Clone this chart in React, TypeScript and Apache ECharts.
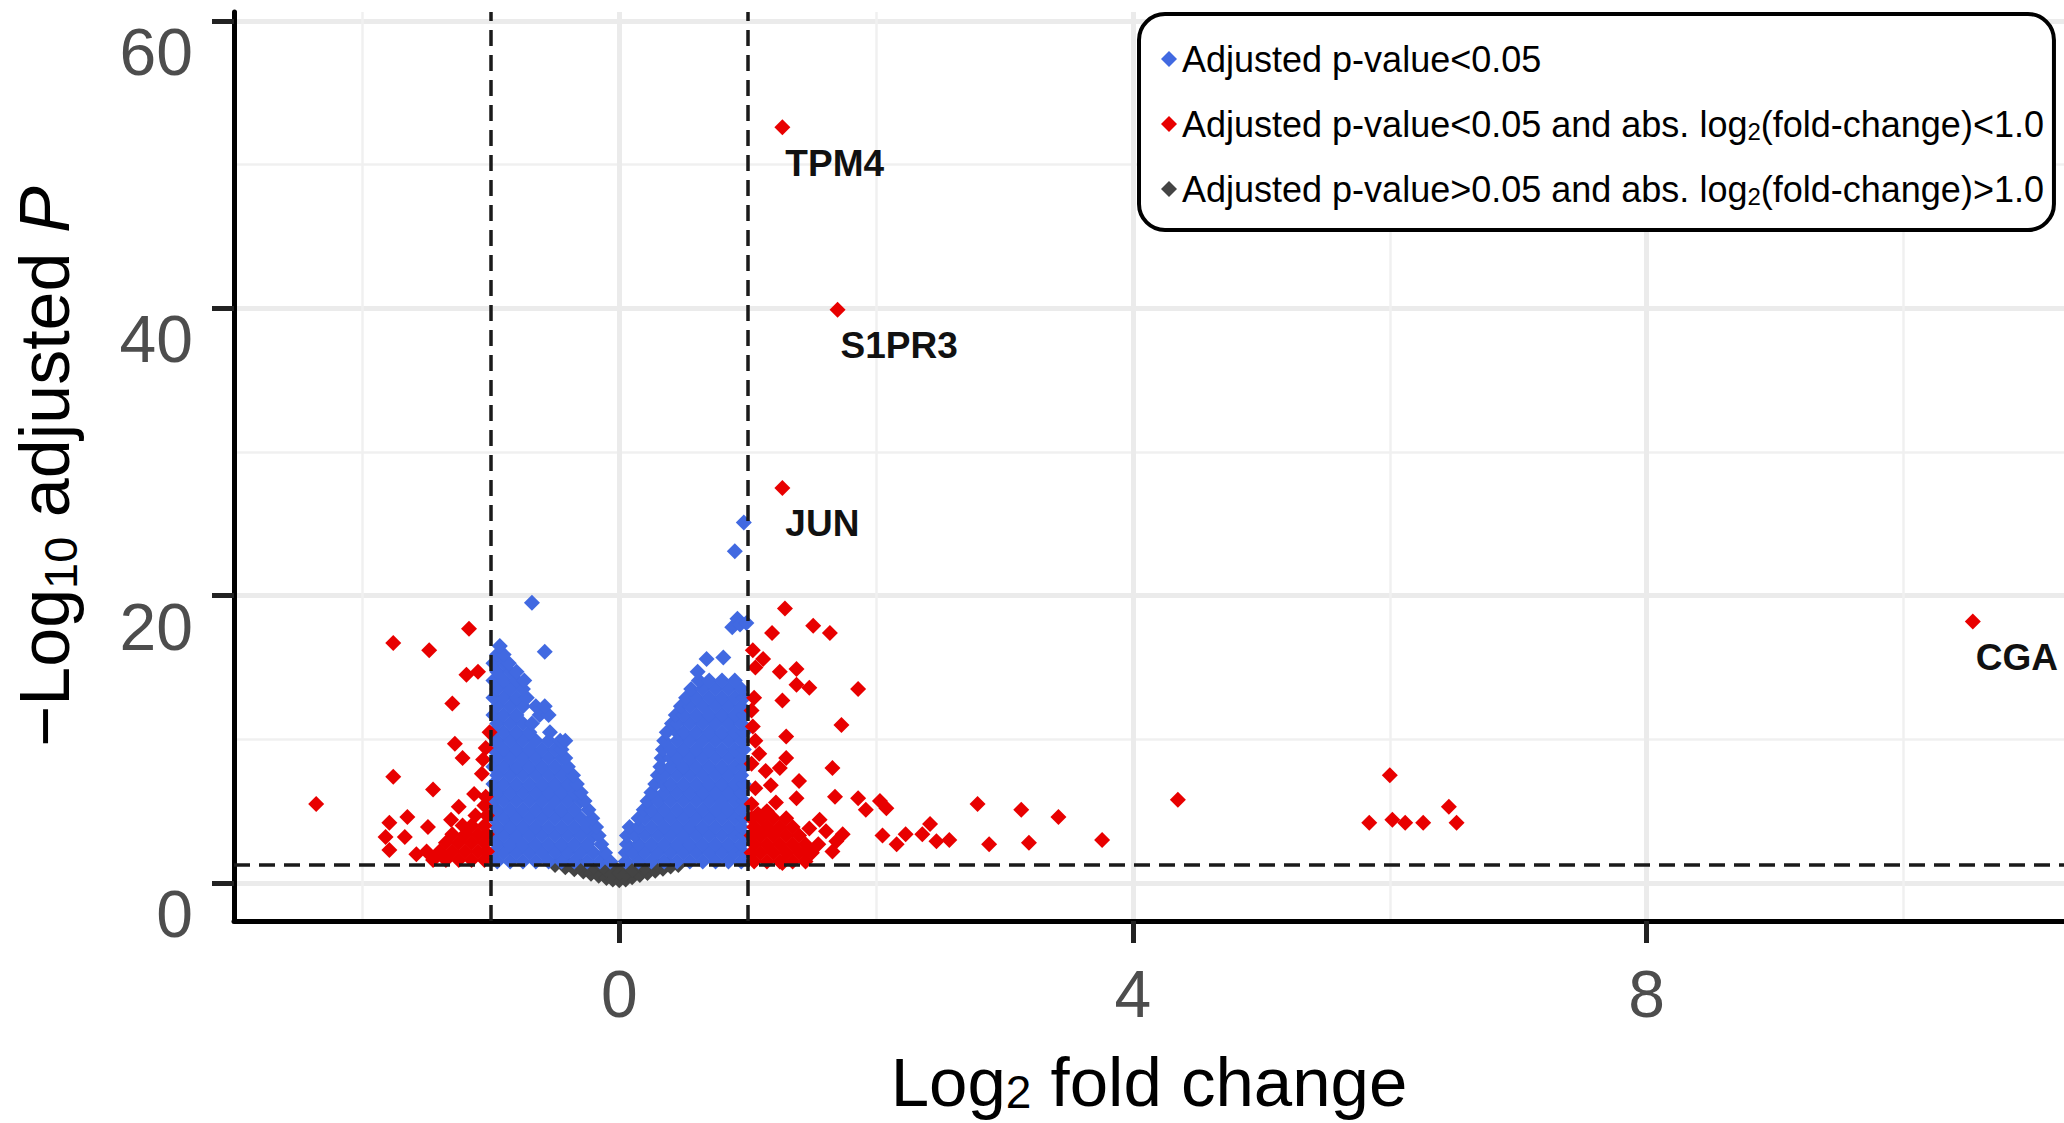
import React, { useEffect, useRef } from "react";
import * as echarts from "echarts";

// ---------------- DATA ----------------
const seriesNames = [
  "Adjusted p-value<0.05",
  "Adjusted p-value<0.05 and abs. log2(fold-change)<1.0",
  "Adjusted p-value>0.05 and abs. log2(fold-change)>1.0",
];

const xTickValues = [0, 4, 8];
const yTickValues = [0, 20, 40, 60];
const xMinorGrid = [-2, 2, 6, 10];
const yMinorGrid = [10, 30, 50];
const foldThresholds = [-1, 1];
const pThreshold = 1.3;

// blue cloud, left lobe: [y, x values]
const blueLeftRows: [number, number[]][] = [
  [1.5, [-0.95, -0.85, -0.75, -0.65, -0.55, -0.45, -0.35, -0.25, -0.15, -0.07]],
  [2.1, [-0.98, -0.9, -0.8, -0.7, -0.6, -0.5, -0.4, -0.3, -0.2, -0.11]],
  [2.7, [-0.95, -0.85, -0.75, -0.65, -0.55, -0.45, -0.35, -0.25, -0.14]],
  [3.3, [-0.98, -0.9, -0.8, -0.7, -0.6, -0.5, -0.4, -0.3, -0.2, -0.16]],
  [3.9, [-0.95, -0.85, -0.75, -0.65, -0.55, -0.45, -0.35, -0.25, -0.18]],
  [4.5, [-0.98, -0.9, -0.8, -0.7, -0.6, -0.5, -0.4, -0.3, -0.21]],
  [5.1, [-0.95, -0.85, -0.75, -0.65, -0.55, -0.45, -0.35, -0.24]],
  [5.7, [-0.98, -0.9, -0.8, -0.7, -0.6, -0.5, -0.4, -0.3, -0.27]],
  [6.3, [-0.95, -0.85, -0.75, -0.65, -0.55, -0.45, -0.35, -0.3]],
  [6.9, [-0.98, -0.9, -0.8, -0.7, -0.6, -0.5, -0.4, -0.33]],
  [7.5, [-0.95, -0.85, -0.75, -0.65, -0.55, -0.45, -0.36]],
  [8.1, [-0.98, -0.9, -0.8, -0.7, -0.6, -0.5, -0.4]],
  [8.7, [-0.95, -0.85, -0.75, -0.65, -0.55, -0.45, -0.42]],
  [9.3, [-0.98, -0.9, -0.8, -0.7, -0.6, -0.5, -0.45]],
  [9.9, [-0.95, -0.85, -0.75, -0.65, -0.55, -0.46, -0.42]],
  [10.5, [-0.98, -0.9, -0.8, -0.7, -0.54]],
  [11.1, [-0.95, -0.85, -0.75, -0.68]],
  [11.7, [-0.98, -0.9, -0.8, -0.62, -0.55]],
  [12.3, [-0.95, -0.85, -0.75, -0.65, -0.58]],
  [12.9, [-0.98, -0.9, -0.8, -0.72]],
  [13.5, [-0.95, -0.85, -0.75]],
  [14.1, [-0.98, -0.9, -0.8, -0.74]],
  [14.7, [-0.95, -0.85, -0.8]],
  [15.3, [-0.98, -0.9, -0.86]],
  [15.9, [-0.95, -0.9]],
  [16.5, [-0.93]],
];

// blue cloud, right lobe: [y, x values]
const blueRightRows: [number, number[]][] = [
  [1.5, [0.05, 0.15, 0.25, 0.35, 0.45, 0.55, 0.65, 0.75, 0.85, 0.95]],
  [2.1, [0.05, 0.1, 0.2, 0.3, 0.4, 0.5, 0.6, 0.7, 0.8, 0.9, 0.97]],
  [2.7, [0.06, 0.15, 0.25, 0.35, 0.45, 0.55, 0.65, 0.75, 0.85, 0.95]],
  [3.3, [0.06, 0.12, 0.2, 0.3, 0.4, 0.5, 0.6, 0.7, 0.8, 0.9, 0.97]],
  [3.9, [0.08, 0.15, 0.25, 0.35, 0.45, 0.55, 0.65, 0.75, 0.85, 0.95]],
  [4.5, [0.15, 0.2, 0.3, 0.4, 0.5, 0.6, 0.7, 0.8, 0.9, 0.97]],
  [5.1, [0.19, 0.25, 0.35, 0.45, 0.55, 0.65, 0.75, 0.85, 0.95]],
  [5.7, [0.22, 0.3, 0.4, 0.5, 0.6, 0.7, 0.8, 0.9, 0.97]],
  [6.3, [0.25, 0.35, 0.45, 0.55, 0.65, 0.75, 0.85, 0.95]],
  [6.9, [0.28, 0.34, 0.4, 0.5, 0.6, 0.7, 0.8, 0.9, 0.97]],
  [7.5, [0.3, 0.35, 0.45, 0.55, 0.65, 0.75, 0.85, 0.95]],
  [8.1, [0.32, 0.4, 0.5, 0.6, 0.7, 0.8, 0.9, 0.97]],
  [8.7, [0.33, 0.4, 0.45, 0.55, 0.65, 0.75, 0.85, 0.95]],
  [9.3, [0.34, 0.4, 0.5, 0.6, 0.7, 0.8, 0.9, 0.97]],
  [9.9, [0.35, 0.45, 0.55, 0.65, 0.75, 0.85, 0.95]],
  [10.5, [0.37, 0.45, 0.5, 0.6, 0.7, 0.8, 0.9, 0.97]],
  [11.1, [0.41, 0.45, 0.55, 0.65, 0.75, 0.85, 0.95]],
  [11.7, [0.44, 0.5, 0.6, 0.7, 0.8, 0.9, 0.97]],
  [12.3, [0.48, 0.55, 0.65, 0.75, 0.85, 0.95]],
  [12.9, [0.52, 0.6, 0.7, 0.8, 0.9, 0.97]],
  [13.5, [0.56, 0.65, 0.75, 0.85, 0.95]],
  [14.1, [0.62, 0.7, 0.8, 0.9]],
];

const blueScattered: [number, number][] = [
  [-0.68, 19.5], [-0.58, 16.1], [0.61, 14.7], [0.68, 15.6], [0.81, 15.7],
  [0.88, 17.8], [0.92, 18.4], [0.94, 18.0], [0.99, 18.1], [0.9, 23.1], [0.97, 25.1],
];

// red, dense clusters: [y, x values]
const redLeftRows: [number, number[]][] = [
  [1.6, [-1.05, -1.15, -1.25, -1.35, -1.45]],
  [2.2, [-1.03, -1.1, -1.2, -1.3, -1.4]],
  [2.8, [-1.05, -1.15, -1.25, -1.35]],
  [3.4, [-1.03, -1.1, -1.2, -1.3]],
  [4.0, [-1.05, -1.15, -1.22]],
  [4.7, [-1.03, -1.12]],
  [5.4, [-1.05]],
  [6.0, [-1.04]],
];
const redRightRows: [number, number[]][] = [
  [1.5, [1.05, 1.15, 1.25, 1.35, 1.45]],
  [2.1, [1.03, 1.1, 1.2, 1.3, 1.4, 1.5]],
  [2.7, [1.05, 1.15, 1.25, 1.35, 1.45, 1.55]],
  [3.3, [1.03, 1.1, 1.2, 1.3, 1.4]],
  [3.9, [1.05, 1.15, 1.25, 1.35]],
  [4.5, [1.03, 1.1, 1.2, 1.3]],
];
const redScattered: [number, number][] = [
  [-2.36, 5.5], [-1.76, 16.7], [-1.48, 16.2], [-1.17, 17.7], [-1.19, 14.5], [-1.1, 14.7],
  [-1.3, 12.5], [-1.01, 10.5], [-1.28, 9.7], [-1.22, 8.7], [-1.76, 7.4], [-1.45, 6.5],
  [-1.06, 8.6], [-1.79, 4.2], [-1.65, 4.6], [-1.49, 3.9], [-1.82, 3.2], [-1.67, 3.2],
  [-1.79, 2.3], [-1.31, 4.4], [-1.25, 5.3], [-1.13, 6.2], [-1.07, 7.6], [-1.04, 9.4],
  [-1.5, 2.2], [-1.58, 2.0],
  [1.29, 19.1], [1.19, 17.4], [1.51, 17.9], [1.64, 17.4], [1.04, 16.2], [1.12, 15.6],
  [1.06, 15.0], [1.25, 14.7], [1.38, 14.9], [1.38, 13.8], [1.48, 13.6], [1.86, 13.5],
  [1.05, 12.9], [1.27, 12.7], [1.03, 12.0], [1.04, 10.9], [1.73, 11.0], [1.06, 9.9],
  [1.3, 10.2], [1.09, 9.0], [1.3, 8.7], [1.66, 8.0], [1.03, 8.3], [1.14, 7.8],
  [1.25, 8.0], [1.4, 7.1], [1.06, 6.6], [1.18, 6.8], [1.38, 5.9], [1.68, 6.0],
  [1.86, 5.9], [1.92, 5.1], [2.03, 5.7], [2.08, 5.2], [2.79, 5.5], [3.13, 5.1],
  [3.42, 4.6], [2.05, 3.3], [2.16, 2.7], [2.23, 3.4], [2.36, 3.4], [2.42, 4.1],
  [2.47, 2.9], [2.57, 3.0], [2.88, 2.7], [3.19, 2.8], [3.76, 3.0], [4.35, 5.8],
  [1.48, 3.8], [1.56, 4.4], [1.61, 3.6], [1.69, 2.9], [1.74, 3.4], [1.66, 2.2],
  [1.45, 2.2], [1.27, 1.4], [1.03, 5.5], [1.15, 5.0], [1.22, 5.6], [1.08, 4.8],
  [6.0, 7.5], [5.84, 4.2], [6.02, 4.4], [6.12, 4.2], [6.26, 4.2], [6.46, 5.3], [6.52, 4.2],
];

const grayPoints: [number, number][] = [
  [-0.5, 1.25], [-0.42, 1.1], [-0.35, 0.95], [-0.28, 0.8], [-0.22, 0.65], [-0.16, 0.5],
  [-0.1, 0.35], [-0.05, 0.25], [0, 0.2], [0.05, 0.25], [0.1, 0.4], [0.16, 0.55],
  [0.22, 0.7], [0.28, 0.85], [0.34, 1.0], [0.4, 1.15], [0.46, 1.25],
  [-0.4, 1.3], [-0.3, 1.25], [-0.2, 1.1], [-0.15, 1.3], [-0.1, 0.9], [-0.05, 0.65],
  [-0.05, 1.2], [0, 0.7], [0.05, 0.65], [0.05, 1.2], [0.1, 0.9], [0.15, 1.3],
  [0.2, 1.1], [0.3, 1.25], [0.38, 1.3],
];

const labelledGenes = [
  { name: "TPM4", x: 1.27, y: 52.6 },
  { name: "S1PR3", x: 1.7, y: 39.9 },
  { name: "JUN", x: 1.27, y: 27.5 },
  { name: "CGA", x: 10.54, y: 18.2 },
];

// ---------------- STYLE ----------------
const FONT = "'Liberation Sans', Arial, Helvetica, sans-serif";
const COLORS = { blue: "#4169E1", red: "#E80000", gray: "#444444" };
const SYMBOL_SIZE = 16;

const rowsToPoints = (rows: [number, number[]][]) =>
  rows.flatMap(([y, xs]) => xs.map((x) => [x, y]));

const pointSeries = (name: string, color: string, data: any[], z: number) => ({
  type: "scatter",
  name,
  data,
  z,
  symbol: "diamond",
  symbolSize: SYMBOL_SIZE,
  itemStyle: { color, opacity: 1 },
  emphasis: { disabled: true },
  silent: true,
});

export default function App() {
  const ref = useRef<HTMLDivElement>(null);

  useEffect(() => {
    if (!ref.current) return;
    const chart = echarts.init(ref.current, null, { renderer: "svg" });

    const gridLines = [
      ...yTickValues.map((v) => ({ yAxis: v, lineStyle: { color: "#EBEBEB", width: 5, type: "solid" } })),
      ...yMinorGrid.map((v) => ({ yAxis: v, lineStyle: { color: "#F0F0F0", width: 2.5, type: "solid" } })),
      ...xTickValues.map((v) => ({ xAxis: v, lineStyle: { color: "#EBEBEB", width: 5, type: "solid" } })),
      ...xMinorGrid.map((v) => ({ xAxis: v, lineStyle: { color: "#F0F0F0", width: 2.5, type: "solid" } })),
    ];

    const dashLines = [
      ...foldThresholds.map((v) => ({ xAxis: v })),
      { yAxis: pThreshold },
    ];

    const option: any = {
      animation: false,
      backgroundColor: "#ffffff",
      grid: { left: 234, right: 0, top: 12, bottom: 202, outerBoundsMode: "none" },
      xAxis: {
        type: "value",
        min: -3.0,
        max: 11.25,
        z: 6,
        splitLine: { show: false },
        axisLine: { show: true, onZero: false, lineStyle: { color: "#000", width: 5 } },
        axisTick: { show: true, customValues: xTickValues, length: 22, lineStyle: { color: "#222", width: 5 } },
        axisLabel: {
          customValues: xTickValues,
          fontSize: 66,
          lineHeight: 66,
          margin: 40,
          color: "#4D4D4D",
          fontFamily: FONT,
        },
        name: "Log{sub|2} fold change",
        nameLocation: "middle",
        nameGap: 128,
        nameTextStyle: {
          fontSize: 69,
          lineHeight: 66,
          color: "#000",
          fontFamily: FONT,
          rich: {
            sub: { fontSize: 46, lineHeight: 20, verticalAlign: "bottom", color: "#000", fontFamily: FONT },
          },
        },
      },
      yAxis: {
        type: "value",
        min: -2.645,
        max: 60.63,
        z: 6,
        splitLine: { show: false },
        axisLine: { show: true, onZero: false, lineStyle: { color: "#000", width: 5 } },
        axisTick: { show: true, customValues: yTickValues, length: 22, lineStyle: { color: "#222", width: 5 } },
        axisLabel: {
          customValues: yTickValues,
          fontSize: 66,
          lineHeight: 62,
          verticalAlign: "top",
          margin: 41,
          color: "#4D4D4D",
          fontFamily: FONT,
        },
        name: "\u2212Log{sub|10} adjusted {it|P}",
        nameLocation: "middle",
        nameGap: 150,
        nameTextStyle: {
          fontSize: 70,
          lineHeight: 78,
          color: "#000",
          fontFamily: FONT,
          rich: {
            sub: { fontSize: 47, lineHeight: 30, verticalAlign: "bottom", color: "#000", fontFamily: FONT },
            it: { fontSize: 70, fontStyle: "italic", color: "#000", fontFamily: FONT },
          },
        },
      },
      legend: {
        data: seriesNames,
        orient: "vertical",
        left: 1139,
        top: 14,
        z: 20,
        padding: [26, 10, 22, 22],
        itemGap: 27,
        itemWidth: 16,
        itemHeight: 16,
        icon: "diamond",
        backgroundColor: "#fff",
        borderColor: "#000",
        borderWidth: 4,
        borderRadius: 26,
        selectedMode: false,
        formatter: (name: string) => name.replace("log2(", "log{sub|2}("),
        textStyle: {
          fontSize: 36,
          lineHeight: 38,
          color: "#000",
          fontFamily: FONT,
          rich: {
            sub: { fontSize: 24, lineHeight: 10, verticalAlign: "bottom", color: "#000", fontFamily: FONT },
          },
        },
      },
      series: [
        {
          type: "scatter",
          name: "gridlines",
          data: [],
          z: 1,
          silent: true,
          markLine: {
            z: 1,
            silent: true,
            symbol: ["none", "none"],
            label: { show: false },
            emphasis: { disabled: true },
            data: gridLines,
          },
        },
        pointSeries(seriesNames[2], COLORS.gray, grayPoints, 2),
        pointSeries(
          seriesNames[0],
          COLORS.blue,
          [...rowsToPoints(blueLeftRows), ...rowsToPoints(blueRightRows), ...blueScattered],
          3
        ),
        pointSeries(
          seriesNames[1],
          COLORS.red,
          [...rowsToPoints(redLeftRows), ...rowsToPoints(redRightRows), ...redScattered],
          4
        ),
        {
          ...pointSeries("labelled genes", COLORS.red, labelledGenes.map((g) => ({ name: g.name, value: [g.x, g.y] })), 5),
          label: {
            show: true,
            formatter: "{b}",
            position: [11, 44],
            align: "left",
            verticalAlign: "middle",
            fontSize: 37,
            fontWeight: "bold",
            color: "#111",
            fontFamily: FONT,
          },
        },
        {
          type: "scatter",
          name: "thresholds",
          data: [],
          z: 6,
          silent: true,
          markLine: {
            z: 8,
            silent: true,
            symbol: ["none", "none"],
            label: { show: false },
            emphasis: { disabled: true },
            lineStyle: { color: "#1a1a1a", width: 3.5, type: [16, 9] },
            data: dashLines,
          },
        },
      ],
    };

    chart.setOption(option);
    return () => chart.dispose();
  }, []);

  return (
    <div
      ref={ref}
      style={{ position: "fixed", left: 0, top: 0, width: 2064, height: 1123, background: "#fff" }}
    />
  );
}
